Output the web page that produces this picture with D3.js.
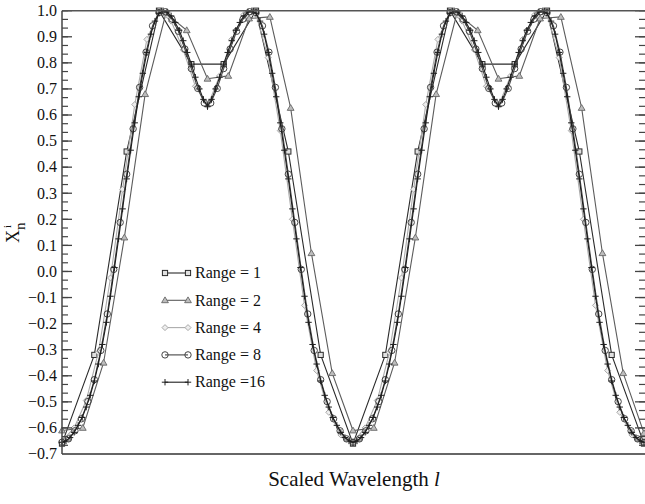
<!DOCTYPE html>
<html>
<head>
<meta charset="utf-8">
<script src="https://cdn.jsdelivr.net/npm/d3@7"></script>
<style>
  body { margin: 0; background: #fff; }
  svg { display: block; }
  text { font-family: 'Liberation Serif', 'Times New Roman', Times, Tinos, 'DejaVu Serif', 'Noto Serif', serif; }
</style>
</head>
<body>
<svg id="chart" width="645" height="504"></svg>
<script>
// series labels
const seriesNames = ['Range = 1', 'Range = 2', 'Range = 4', 'Range = 8', 'Range =16'];

// values, evenly spaced along the wavelength axis
const range1 = [-0.66, -0.32, 0.46, 1.0, 0.795, 0.795, 1.0, 0.46, -0.32, -0.66,
  -0.32, 0.46, 1.0, 0.795, 0.795, 1.0, 0.46, -0.32, -0.66];

const range2 = [-0.61, -0.60, -0.35, 0.13, 0.68, 0.99, 0.925, 0.739, 0.75, 0.97, 0.976, 0.627, 0.07, -0.39,
  -0.61, -0.60, -0.35, 0.13, 0.68, 0.99, 0.925, 0.739, 0.75, 0.97, 0.976, 0.627, 0.07, -0.39, -0.62];

const range4 = [-0.65, -0.60, -0.495, -0.31, -0.025, 0.315, 0.64, 0.89, 0.998, 0.96, 0.85, 0.71, 0.635,
  0.75, 0.89, 0.985, 0.985, 0.82, 0.54, 0.2, -0.13, -0.38, -0.54, -0.627, -0.653,
  -0.60, -0.495, -0.31, -0.025, 0.315, 0.64, 0.89, 0.998, 0.96, 0.85, 0.71, 0.635,
  0.75, 0.89, 0.985, 0.985, 0.82, 0.54, 0.2, -0.13, -0.38, -0.54, -0.627, -0.653];

const range8 = [-0.655, -0.642, -0.611, -0.565, -0.499, -0.415, -0.303, -0.163, 0.008, 0.188, 0.373, 0.547,
  0.706, 0.841, 0.942, 0.993, 0.996, 0.968, 0.921, 0.853, 0.778, 0.702, 0.646,
  0.646, 0.702, 0.778, 0.853, 0.921, 0.968, 0.996, 0.993, 0.942, 0.841, 0.706, 0.547, 0.373, 0.188,
  0.008, -0.163, -0.303, -0.415, -0.499, -0.565, -0.611, -0.642, -0.655,
  -0.642, -0.611, -0.565, -0.499, -0.415, -0.303, -0.163, 0.008, 0.188, 0.373, 0.547,
  0.706, 0.841, 0.942, 0.993, 0.996, 0.968, 0.921, 0.853, 0.778, 0.702, 0.646,
  0.646, 0.702, 0.778, 0.853, 0.921, 0.968, 0.996, 0.993, 0.942, 0.841, 0.706, 0.547, 0.373, 0.188,
  0.008, -0.163, -0.303, -0.415, -0.499, -0.565, -0.611, -0.642, -0.655];

const range16 = [-0.655, -0.65, -0.637, -0.617, -0.59, -0.56, -0.52, -0.475, -0.42, -0.355, -0.28, -0.195,
  -0.095, 0.015, 0.125, 0.24, 0.355, 0.465, 0.57, 0.67, 0.76, 0.84, 0.91, 0.96, 0.99, 1.0, 0.995, 0.98,
  0.955, 0.925, 0.885, 0.84, 0.795, 0.745, 0.70, 0.66, 0.632,
  0.66, 0.70, 0.745, 0.795, 0.84, 0.885, 0.925, 0.955, 0.98, 0.995, 1.0, 0.99, 0.96, 0.91, 0.84, 0.76,
  0.67, 0.57, 0.465, 0.355, 0.24, 0.125, 0.015, -0.095, -0.195, -0.28, -0.355, -0.42, -0.475, -0.52,
  -0.56, -0.59, -0.617, -0.637, -0.65, -0.655,
  -0.65, -0.637, -0.617, -0.59, -0.56, -0.52, -0.475, -0.42, -0.355, -0.28, -0.195,
  -0.095, 0.015, 0.125, 0.24, 0.355, 0.465, 0.57, 0.67, 0.76, 0.84, 0.91, 0.96, 0.99, 1.0, 0.995, 0.98,
  0.955, 0.925, 0.885, 0.84, 0.795, 0.745, 0.70, 0.66, 0.632,
  0.66, 0.70, 0.745, 0.795, 0.84, 0.885, 0.925, 0.955, 0.98, 0.995, 1.0, 0.99, 0.96, 0.91, 0.84, 0.76,
  0.67, 0.57, 0.465, 0.355, 0.24, 0.125, 0.015, -0.095, -0.195, -0.28, -0.355, -0.42, -0.475, -0.52,
  -0.56, -0.59, -0.617, -0.637, -0.65, -0.655];

const yTickValues = [-0.7, -0.6, -0.5, -0.4, -0.3, -0.2, -0.1, 0.0, 0.1, 0.2, 0.3, 0.4, 0.5, 0.6, 0.7, 0.8, 0.9, 1.0];

const svg = d3.select('#chart');
const plotLeft = 62, plotRight = 645, plotTop = 10.7, plotBottom = 454;
const serif = "'Liberation Serif', 'Times New Roman', Times, Tinos, 'DejaVu Serif', serif";

const xScale = d3.scaleLinear().domain([0, 1]).range([plotLeft, 644]);
const yScale = d3.scaleLinear().domain([-0.7, 1.0]).range([plotBottom, plotTop]);

const styles = [
  { line: '#2a2a2a', stroke: '#2a2a2a', fill: '#e0e0e0', shape: 'square' },
  { line: '#5c5c5c', stroke: '#666', fill: '#bdbdbd', shape: 'triangle' },
  { line: '#ababab', stroke: '#a8a8a8', fill: '#eee', shape: 'diamond' },
  { line: '#454545', stroke: '#454545', fill: 'none', shape: 'circle' },
  { line: '#1e1e1e', stroke: '#1e1e1e', fill: 'none', shape: 'plus' }
];
const allSeries = [range1, range2, range4, range8, range16];

function drawMarker(g, shape, st, x, y) {
  if (shape === 'square') {
    g.append('rect').attr('x', x - 2.6).attr('y', y - 2.6).attr('width', 5.2).attr('height', 5.2)
      .attr('fill', st.fill).attr('stroke', st.stroke).attr('stroke-width', 1);
  } else if (shape === 'triangle') {
    g.append('path').attr('d', 'M' + x + ',' + (y - 3.4) + 'L' + (x + 3.4) + ',' + (y + 2.4) + 'L' + (x - 3.4) + ',' + (y + 2.4) + 'Z')
      .attr('fill', st.fill).attr('stroke', st.stroke).attr('stroke-width', 0.9);
  } else if (shape === 'diamond') {
    g.append('path').attr('d', 'M' + x + ',' + (y - 3) + 'L' + (x + 3) + ',' + y + 'L' + x + ',' + (y + 3) + 'L' + (x - 3) + ',' + y + 'Z')
      .attr('fill', st.fill).attr('stroke', st.stroke).attr('stroke-width', 1);
  } else if (shape === 'circle') {
    g.append('circle').attr('cx', x).attr('cy', y).attr('r', 3.2)
      .attr('fill', st.fill).attr('stroke', st.stroke).attr('stroke-width', 1);
  } else {
    g.append('path').attr('d', 'M' + (x - 3.2) + ',' + y + 'H' + (x + 3.2) + 'M' + x + ',' + (y - 3.2) + 'V' + (y + 3.2))
      .attr('stroke', st.stroke).attr('stroke-width', 1);
  }
}

// curves
const plot = svg.append('g').attr('id', 'curves');
allSeries.forEach(function(vals, si) {
  const st = styles[si];
  const n = vals.length;
  const line = d3.line()
    .x(function(d, i) { return xScale(i / (n - 1)); })
    .y(function(d) { return yScale(d); });
  const g = plot.append('g');
  g.append('path').datum(vals).attr('d', line)
    .attr('fill', 'none').attr('stroke', st.line).attr('stroke-width', 1.1);
  vals.forEach(function(v, i) {
    drawMarker(g, st.shape, st, xScale(i / (n - 1)), yScale(v));
  });
});

// frame
const minorTicks = d3.range(0, 52).map(function(i) { return -0.7 + i / 30; }).filter(function(v) { return v <= 1.0001; });
const axisG = svg.append('g');
axisG.selectAll('line.minorL').data(minorTicks).enter().append('line')
  .attr('x1', plotLeft).attr('x2', plotLeft + 6).attr('y1', function(d) { return yScale(d); }).attr('y2', function(d) { return yScale(d); })
  .attr('stroke', '#444').attr('stroke-width', 1.2);
axisG.selectAll('line.majorL').data(yTickValues).enter().append('line')
  .attr('x1', plotLeft).attr('x2', plotLeft + 10).attr('y1', function(d) { return yScale(d); }).attr('y2', function(d) { return yScale(d); })
  .attr('stroke', '#444').attr('stroke-width', 1.3);
axisG.selectAll('line.minorR').data(minorTicks).enter().append('line')
  .attr('x1', plotRight - 6).attr('x2', plotRight).attr('y1', function(d) { return yScale(d); }).attr('y2', function(d) { return yScale(d); })
  .attr('stroke', '#444').attr('stroke-width', 1.2);
axisG.selectAll('line.majorR').data(yTickValues).enter().append('line')
  .attr('x1', plotRight - 10).attr('x2', plotRight).attr('y1', function(d) { return yScale(d); }).attr('y2', function(d) { return yScale(d); })
  .attr('stroke', '#444').attr('stroke-width', 1.3);

axisG.append('line').attr('x1', plotLeft).attr('x2', plotRight).attr('y1', plotTop).attr('y2', plotTop)
  .attr('stroke', '#555').attr('stroke-width', 1.4);
axisG.append('line').attr('x1', plotLeft).attr('x2', plotRight).attr('y1', plotBottom).attr('y2', plotBottom)
  .attr('stroke', '#666').attr('stroke-width', 2.2);
axisG.append('line').attr('x1', plotLeft).attr('x2', plotLeft).attr('y1', plotTop).attr('y2', plotBottom)
  .attr('stroke', '#444').attr('stroke-width', 1.5);

axisG.selectAll('text.ytick').data(yTickValues).enter().append('text')
  .attr('x', plotLeft - 5).attr('y', function(d) { return yScale(d); }).attr('dy', '0.33em')
  .attr('text-anchor', 'end').attr('font-size', 16).attr('fill', '#111').attr('font-family', serif)
  .text(function(d) { return d3.format('.1f')(d); });

// axis titles
svg.append('text').attr('x', 354).attr('y', 486).attr('text-anchor', 'middle')
  .attr('font-size', 21).attr('fill', '#111').attr('font-family', serif)
  .call(function(t) {
    t.append('tspan').text('Scaled Wavelength ');
    t.append('tspan').attr('font-style', 'italic').text('l');
  });

const yTitle = svg.append('text').attr('transform', 'translate(19,243) rotate(-90)')
  .attr('font-size', 18).attr('fill', '#111').attr('font-family', serif);
yTitle.append('tspan').attr('x', 0).attr('y', 0).text('X');
yTitle.append('tspan').attr('x', 13).attr('y', 6).attr('font-size', 15).text('n');
yTitle.append('tspan').attr('x', 15).attr('y', -8).attr('font-size', 11).text('i');

// legend
const legend = svg.append('g');
seriesNames.forEach(function(name, i) {
  const st = styles[i];
  const y = 273 + i * 27.3;
  const g = legend.append('g');
  g.append('line').attr('x1', 165).attr('x2', 188).attr('y1', y).attr('y2', y)
    .attr('stroke', st.line).attr('stroke-width', 1.1);
  drawMarker(g, st.shape, st, 165, y);
  drawMarker(g, st.shape, st, 188, y);
  g.append('text').attr('x', 195).attr('y', y).attr('dy', '0.33em')
    .attr('font-size', 16).attr('fill', '#111').attr('font-family', serif).text(name);
});
</script>
</body>
</html>
